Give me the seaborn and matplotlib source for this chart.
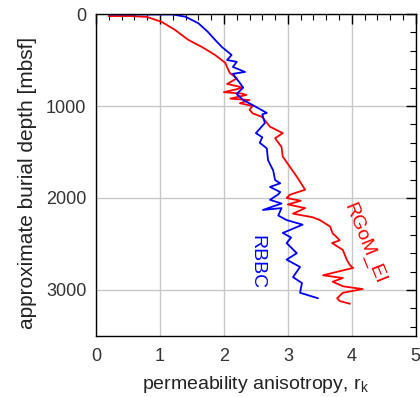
import numpy as np
import pandas as pd
import seaborn as sns
import matplotlib.pyplot as plt
from matplotlib.ticker import MultipleLocator

# RGoM_EI profile: anisotropy vs burial depth
rgom_rk = [0.2, 0.55, 0.8, 1.03, 1.24, 1.44, 1.66, 1.86, 2.02, 2.09, 2.2, 2.05, 2.3, 2.0, 2.28,
           2.35, 2.1, 2.4, 2.25, 2.45, 2.4, 2.45, 2.6, 2.72, 2.92, 2.8, 2.9, 2.92, 3.03, 3.14, 3.27,
           3.03, 2.98, 3.2, 3.0, 3.27, 3.08, 3.39, 3.5, 3.66, 3.7, 3.77, 3.81, 3.69, 3.86, 3.92, 3.97,
           4.02, 3.55, 3.86, 3.70, 3.86, 4.17, 3.86, 3.77, 3.81, 3.97]
rgom_depth = [22, 22, 32, 87, 175, 280, 360, 445, 530, 640, 700, 760, 800, 850, 865,
              880, 920, 935, 970, 1000, 1040, 1080, 1120, 1225, 1295, 1350, 1445, 1550, 1660, 1770, 1910,
              1965, 2000, 2030, 2070, 2110, 2170, 2210, 2240, 2310, 2385, 2430, 2460, 2490, 2565, 2670, 2730,
              2760, 2840, 2870, 2910, 2960, 2990, 3030, 3090, 3120, 3150]

# RBBC profile
rbbc_rk = [0.2, 1.2, 1.4, 1.6, 1.75, 1.86, 1.97, 2.12, 2.05, 2.2, 2.14, 2.33, 2.14, 2.25, 2.3, 2.2,
           2.3, 2.45, 2.67, 2.6, 2.64, 2.5, 2.6, 2.56, 2.67, 2.69, 2.77, 2.8, 2.88, 2.72, 2.88, 2.85,
           2.72, 2.9, 2.61, 2.9, 2.85, 2.98, 3.23, 2.92, 3.05, 2.98, 3.14, 2.98, 3.19, 3.08, 3.22, 3.19, 3.47]
rbbc_depth = [5, 5, 30, 100, 195, 280, 360, 445, 500, 520, 575, 630, 650, 750, 800, 870,
              935, 990, 1075, 1090, 1185, 1295, 1340, 1400, 1460, 1590, 1700, 1805, 1840, 1880, 1935, 1960,
              2020, 2060, 2130, 2110, 2190, 2240, 2290, 2380, 2430, 2490, 2600, 2670, 2750, 2860, 2925, 3030, 3090]

df = pd.concat([
    pd.DataFrame({"rk": rgom_rk, "depth": rgom_depth, "site": "RGoM_EI"}),
    pd.DataFrame({"rk": rbbc_rk, "depth": rbbc_depth, "site": "RBBC"}),
], ignore_index=True)

sns.set_style("white")
plt.rcParams['font.family'] = ['Liberation Sans', 'DejaVu Sans']

fig = plt.figure(figsize=(4.2, 3.97), dpi=100)
ax = fig.add_axes([0.2286, 0.1537, 0.7614, 0.811])

sns.lineplot(data=df, x="rk", y="depth", hue="site", palette={"RGoM_EI": "#ff0000", "RBBC": "#0000ff"},
             sort=False, estimator=None, linewidth=1.3, legend=False, ax=ax)

ax.set_xlim(0, 5)
ax.set_ylim(3500, 0)
ax.xaxis.set_major_locator(MultipleLocator(1))
ax.xaxis.set_minor_locator(MultipleLocator(0.2))
ax.yaxis.set_major_locator(MultipleLocator(1000))
ax.yaxis.set_minor_locator(MultipleLocator(200))
ax.grid(True, which="major", color="#c8c8c8", linewidth=1.0)
ax.set_axisbelow(True)
ax.tick_params(which="both", direction="in", top=True, right=True, color="black", labelcolor="#333333", labelsize=13)
ax.tick_params(which="major", length=7, width=1)
ax.tick_params(which="minor", length=4, width=0.8)
ax.tick_params(axis="x", pad=9)
ax.tick_params(axis="y", pad=7)
for s in ax.spines.values():
    s.set_color("black")
    s.set_linewidth(1.0)

ax.set_xlabel("permeability anisotropy, r$_\\mathregular{k}$", fontsize=14, color="#222222", labelpad=6)
ax.set_ylabel("approximate burial depth [mbsf]", fontsize=15, color="#222222", labelpad=6)
ax.yaxis.set_label_coords(-0.185, 0.475)

ax.text(2.52, 2700, "RBBC", color="#0000ff", fontsize=14, rotation=-90, ha="center", va="center")
ax.text(4.19, 2490, "RGoM_EI", color="#ff0000", fontsize=14, rotation=-68, ha="center", va="center",
        rotation_mode="anchor")

fig.savefig("out.png", dpi=100)
